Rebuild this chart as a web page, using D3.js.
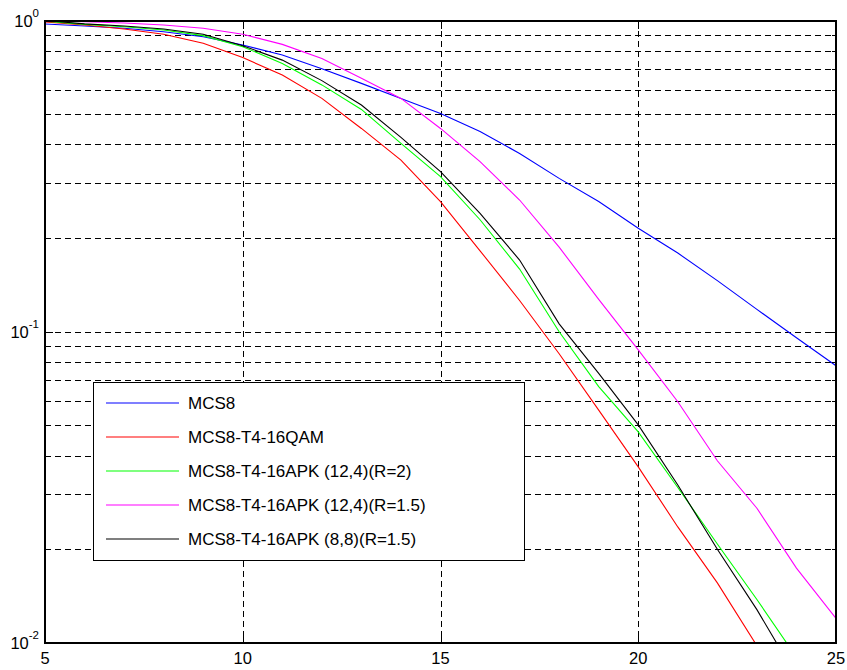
<!DOCTYPE html>
<html><head><meta charset="utf-8">
<script src="https://cdn.jsdelivr.net/npm/d3@7"></script>
<style>
body{margin:0;background:#fff;}
svg{display:block;}
text{font-family:"Liberation Sans",Arial,sans-serif;fill:#000;}
</style></head>
<body>
<svg id="chart" width="847" height="670"></svg>
<script>
const snr = [5,6,7,8,9,10,11,12,13,14,15,16,17,18,19,20,21,22,23,24,25];
const mcs8 = [0.974,0.96,0.944,0.92,0.887,0.834,0.775,0.70,0.628,0.562,0.503,0.44,0.374,0.311,0.262,0.215,0.179,0.146,0.118,0.0957,0.0778];
const qam16 = [0.99,0.967,0.939,0.903,0.845,0.76,0.668,0.562,0.45,0.356,0.262,0.182,0.126,0.085,0.056,0.0368,0.0236,0.0156,0.0098];
const apk124r2 = [0.995,0.972,0.955,0.932,0.894,0.824,0.728,0.621,0.518,0.403,0.315,0.229,0.159,0.1,0.0666,0.0477,0.0316,0.0208,0.0138,0.009];
const apk124r15 = [1.0,0.991,0.982,0.967,0.944,0.903,0.838,0.755,0.652,0.562,0.45,0.352,0.265,0.187,0.127,0.0874,0.0596,0.0385,0.0271,0.0174,0.012];
const apk88r15 = [1.0,0.975,0.96,0.939,0.903,0.83,0.746,0.641,0.535,0.421,0.327,0.240,0.17,0.106,0.0735,0.0502,0.0322,0.0200,0.0128,0.0078];
const seriesNames = ["MCS8","MCS8-T4-16QAM","MCS8-T4-16APK (12,4)(R=2)","MCS8-T4-16APK (12,4)(R=1.5)","MCS8-T4-16APK (8,8)(R=1.5)"];
const seriesColors = ["#0000ff","#ff0000","#00ff00","#ff00ff","#000000"];
const xTicks = [5,10,15,20,25];
const yTickExps = [-2,-1,0];
const xDomain = [5,25];
const yDomain = [0.01,1];

const seriesValues = [mcs8, qam16, apk124r2, apk124r15, apk88r15];

const L=45, T=20.5, R=836, B=643;
const svg = d3.select("#chart");
const x = d3.scaleLinear().domain(xDomain).range([L,R]);
const y = d3.scaleLog().domain(yDomain).range([B,T]);

const yGridVals = [];
for (let e=-2; e<0; e++) for (let m=1; m<10; m++) yGridVals.push(m*Math.pow(10,e));
const yGridInner = yGridVals.filter(v=>v>0.01+1e-12);

const grid = svg.append("g").attr("stroke","#000").attr("stroke-width",1)
  .attr("stroke-dasharray","6,4").attr("shape-rendering","crispEdges");
grid.selectAll("line.h").data(yGridInner).join("line")
  .attr("x1",L).attr("x2",R)
  .attr("y1",d=>Math.round(y(d))+0.5).attr("y2",d=>Math.round(y(d))+0.5);
grid.selectAll("line.v").data(xTicks.filter(v=>v>xDomain[0]&&v<xDomain[1])).join("line")
  .attr("y1",T).attr("y2",B)
  .attr("x1",d=>Math.round(x(d))+0.5).attr("x2",d=>Math.round(x(d))+0.5);

svg.append("clipPath").attr("id","clip").append("rect")
  .attr("x",L).attr("y",T).attr("width",R-L).attr("height",B-T);

const line = d3.line().x((d,i)=>x(snr[i])).y(d=>y(d));
const lines = svg.append("g").attr("clip-path","url(#clip)");
seriesValues.forEach((vals,k)=>{
  lines.append("path").datum(vals)
    .attr("d",line).attr("fill","none")
    .attr("stroke",seriesColors[k]).attr("stroke-width",1.1);
});

const ax = svg.append("g").attr("stroke","#000").attr("fill","none").attr("shape-rendering","crispEdges");
ax.append("rect").attr("x",L).attr("y",Math.round(T)).attr("width",R-L).attr("height",B-Math.round(T)).attr("stroke-width",1.5);

yGridVals.concat([1]).forEach(v=>{
  const major = Math.abs(Math.log10(v)-Math.round(Math.log10(v)))<1e-9;
  const len = major?8:4;
  const yy = Math.round(y(v))+0.5;
  ax.append("line").attr("x1",L).attr("x2",L+len).attr("y1",yy).attr("y2",yy);
  ax.append("line").attr("x1",R).attr("x2",R-len).attr("y1",yy).attr("y2",yy);
});
xTicks.forEach(v=>{
  const xx = Math.round(x(v))+0.5;
  ax.append("line").attr("x1",xx).attr("x2",xx).attr("y1",B).attr("y2",B-8);
  ax.append("line").attr("x1",xx).attr("x2",xx).attr("y1",T).attr("y2",T+8);
});

svg.append("g").selectAll("text").data(xTicks).join("text")
  .attr("x",d=>x(d)).attr("y",664).attr("text-anchor","middle")
  .attr("font-size",16.5).text(d=>d);

const yl = svg.append("g");
yTickExps.forEach(e=>{
  const yy = y(Math.pow(10,e));
  const t = yl.append("text").attr("x",39).attr("y",yy+6).attr("text-anchor","end").attr("font-size",16.5);
  t.append("tspan").text("10");
  t.append("tspan").attr("font-size",11.5).attr("dy",-10).text(e===0?"0":("-"+Math.abs(e)));
});

const lg = svg.append("g");
lg.append("rect").attr("x",93.5).attr("y",382.5).attr("width",431).attr("height",178)
  .attr("fill","#fff").attr("stroke","#000").attr("stroke-width",1);
seriesNames.forEach((n,k)=>{
  const yy = 403 + k*34;
  lg.append("line").attr("x1",106).attr("x2",179).attr("y1",yy).attr("y2",yy)
    .attr("stroke",seriesColors[k]).attr("stroke-width",1.2);
  lg.append("text").attr("x",188).attr("y",yy+6).attr("font-size",17).text(n);
});
</script>
</body></html>
